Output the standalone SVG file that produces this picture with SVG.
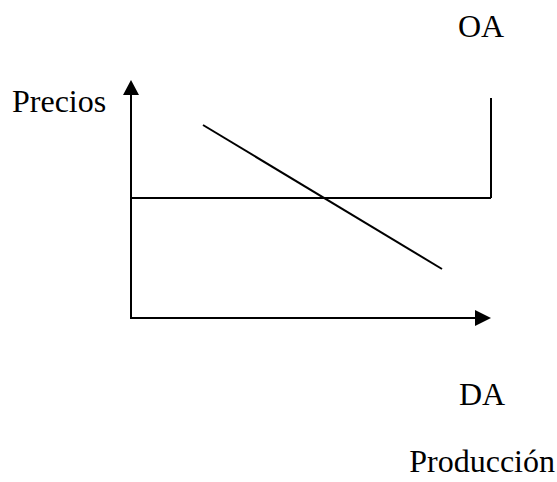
<svg xmlns="http://www.w3.org/2000/svg" width="557" height="482" viewBox="0 0 557 482">
<style>
.t{font-family:"Liberation Serif","Times New Roman",serif;font-size:32px;fill:#000}
.l{stroke:#000;stroke-width:2;fill:none}
</style>
<rect width="557" height="482" fill="#fff"/>
<g id="connectors">
<line class="l" x1="131" y1="92" x2="131" y2="318"/>
<polygon points="131,80 123,95 139,95" fill="#000"/>
<line class="l" x1="130" y1="318" x2="477" y2="318"/>
<polygon points="491,318 475,310 475,326" fill="#000"/>
<line class="l" x1="131" y1="198" x2="491" y2="198"/>
<line class="l" x1="491" y1="98" x2="491" y2="198"/>
<line class="l" x1="203" y1="125" x2="442" y2="269"/>
</g>
<g id="labels">
<text class="t" x="458" y="37">OA</text>
<text class="t" x="12" y="112">Precios</text>
<text class="t" x="459" y="405">DA</text>
<text class="t" x="555" y="472" text-anchor="end">Producción</text>
</g>
</svg>
